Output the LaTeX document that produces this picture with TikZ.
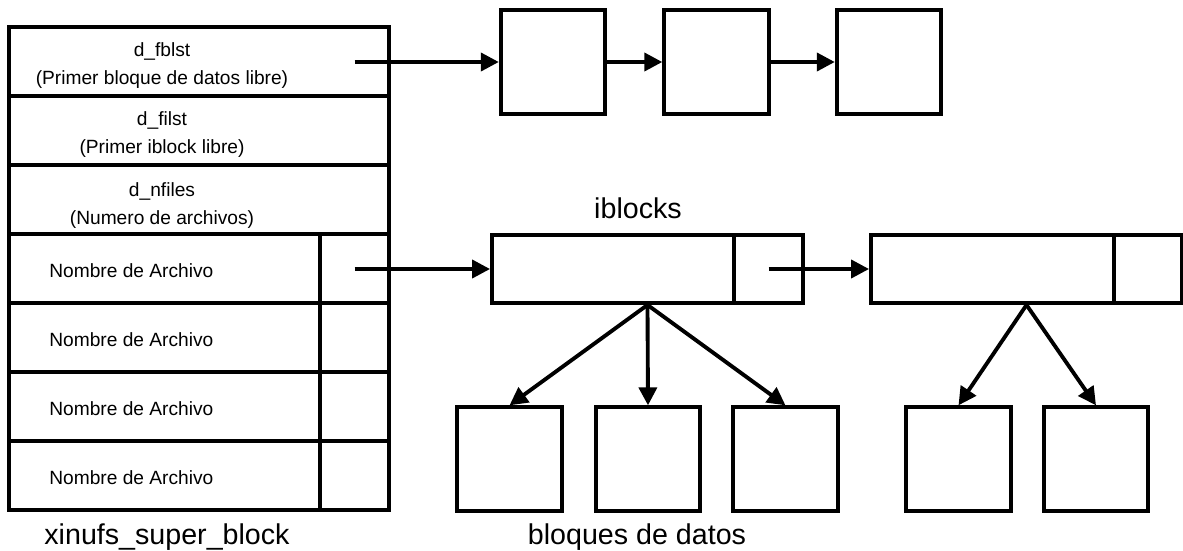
\documentclass[tikz,border=0pt]{standalone}
\usepackage{fontspec}
\setmainfont{Liberation Sans}
\usetikzlibrary{positioning,arrows.meta,calc}

\begin{document}
\begin{tikzpicture}[
  x=0.2mm, y=-0.2mm,
  cell/.style={draw, line width=2.2pt, minimum height=13.8mm, inner sep=0pt},
  blk/.style={draw, line width=2.2pt, minimum width=20.9mm, minimum height=20.7mm, inner sep=0pt},
  fld/.style={font=\fontsize{10.9}{15.9}\selectfont, align=center, inner sep=0pt},
  ttl/.style={font=\fontsize{16.3}{19}\selectfont, inner sep=0pt},
  arr/.style={-{Triangle[length=3.6mm, width=3.6mm]}, line width=2.2pt},
]
  \useasboundingbox (0,0) rectangle (1183,550);

  % superblock: three header fields, then the file table
  \node[cell, minimum width=76mm] (r1) at (199,61.5) {};
  \node[cell, minimum width=76mm] (r2) at (199,130.5) {};
  \node[cell, minimum width=76mm] (r3) at (199,199.5) {};
  \node[fld] (t1) at (162,66) {d\_fblst\\(Primer bloque de datos libre)};
  \node[fld] (t2) at (162,135) {d\_filst\\(Primer iblock libre)};
  \node[fld] (t3) at (162,206) {d\_nfiles\\(Numero de archivos)};

  \node[cell, minimum width=62.2mm] (f1) at (164.5,268.5) {};
  \node[cell, minimum width=13.8mm] (f1p) at (354.5,268.5) {};
  \node[cell, minimum width=62.2mm] (f2) at (164.5,337.5) {};
  \node[cell, minimum width=13.8mm] (f2p) at (354.5,337.5) {};
  \node[cell, minimum width=62.2mm] (f3) at (164.5,406.5) {};
  \node[cell, minimum width=13.8mm] (f3p) at (354.5,406.5) {};
  \node[cell, minimum width=62.2mm] (f4) at (164.5,475.5) {};
  \node[cell, minimum width=13.8mm] (f4p) at (354.5,475.5) {};
  \node[fld, anchor=west] (n1) at (49,271) {Nombre de Archivo};
  \node[fld, anchor=west] (n2) at (49,340) {Nombre de Archivo};
  \node[fld, anchor=west] (n3) at (49,409) {Nombre de Archivo};
  \node[fld, anchor=west] (n4) at (49,478) {Nombre de Archivo};

  \node[ttl] (sb) at (167,537) {xinufs\_super\_block};

  % free list of data blocks
  \node[blk] (b1) at (553,62) {};
  \node[blk] (b2) at (716.5,62) {};
  \node[blk] (b3) at (889,62) {};

  % iblocks
  \node[ttl] (ib) at (638,208) {iblocks};
  \node[cell, minimum width=48.4mm, minimum height=13.6mm] (i1) at (613,269) {};
  \node[cell, minimum width=13.8mm, minimum height=13.6mm] (i1p) at (768.5,269) {};
  \node[cell, minimum width=48.6mm, minimum height=13.6mm] (i2) at (992.5,269) {};
  \node[cell, minimum width=13.6mm, minimum height=13.6mm] (i2p) at (1148,269) {};

  % data blocks
  \node[blk] (d1) at (509.5,459) {};
  \node[blk] (d2) at (648,459) {};
  \node[blk] (d3) at (785.5,459) {};
  \node[blk] (d4) at (958.5,459) {};
  \node[blk] (d5) at (1096,459) {};
  \node[ttl] (bd) at (637,537) {bloques de datos};

  \coordinate (s1) at (f1p.center |- b1.center);
  \coordinate (s2) at (f1p.center |- i1.west);
  \coordinate (k1) at ($(i1.south west)!0.5!(i1p.south east)$);
  \coordinate (k2) at ($(i2.south west)!0.5!(i2p.south east)$);

  \draw[arr] (s1) -- (b1.west);
  \draw[arr] (b1.east) -- (b2.west);
  \draw[arr] (b2.east) -- (b3.west);
  \draw[arr] (s2) -- (i1.west);
  \draw[arr] (i1p.center) -- (i2.west);
  \draw[arr] (k1) -- (d1.north);
  \draw[arr] (k1) -- (d2.north);
  \draw[arr] (k1) -- (d3.north);
  \draw[arr] (k2) -- (d4.north);
  \draw[arr] (k2) -- (d5.north);
\end{tikzpicture}
\end{document}
